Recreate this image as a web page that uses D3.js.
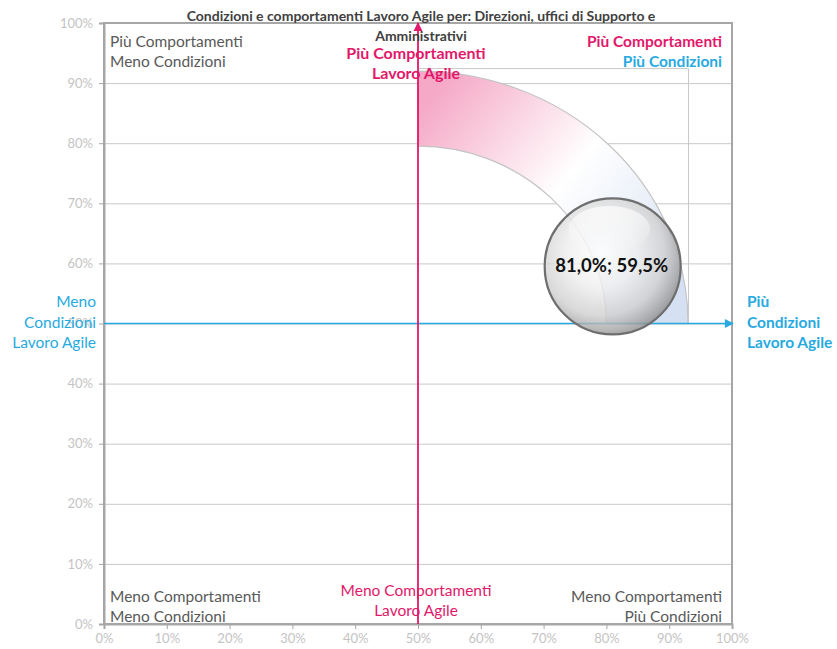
<!DOCTYPE html>
<html>
<head>
<meta charset="utf-8">
<script src="https://cdn.jsdelivr.net/npm/d3@7/dist/d3.min.js"></script>
<style>
  html, body { margin: 0; padding: 0; background: #ffffff; }
  svg { display: block; font-family: Lato, "Open Sans", "Noto Sans", sans-serif; }
</style>
</head>
<body>
<svg id="chart" width="837" height="649"></svg>
<script>
// Condizioni (x) vs Comportamenti (y), in percent
const groupNames = ["Direzioni, uffici di Supporto e Amministrativi"];
const condizioni = [81.0];
const comportamenti = [59.5];
const bubbleSizes = [1];

const xTicks = [0, 10, 20, 30, 40, 50, 60, 70, 80, 90, 100];
const yTicks = [0, 10, 20, 30, 40, 50, 60, 70, 80, 90, 100];

const titleLines = [
  "Condizioni e comportamenti Lavoro Agile per: Direzioni, uffici di Supporto e",
  "Amministrativi"
];

// Decorative quarter ring around the crossing point (percent units)
const ringCentre = [50, 50];
const ringOuter = [93, 92];
const ringInner = [80, 79.5];

const svg = d3.select("#chart");
const plot = { left: 104, right: 732, top: 23, bottom: 624 };

const x = d3.scaleLinear().domain([0, 100]).range([plot.left, plot.right]);
const y = d3.scaleLinear().domain([0, 100]).range([plot.bottom, plot.top]);
const r = d3.scaleSqrt().domain([0, 1]).range([0, 68]);

const pink = "#e2186a";
const blue = "#27aae1";
const grey = "#595959";
const pct = v => v + "%";
const itFmt = d3.formatLocale({ decimal: ",", thousands: ".", grouping: [3], currency: ["€", ""] }).format(".1f");

const defs = svg.append("defs");

// Ring fill: pink fading to white, then pale blue
const ringGrad = defs.append("linearGradient")
  .attr("id", "ringGrad").attr("gradientUnits", "userSpaceOnUse")
  .attr("x1", x(50)).attr("y1", y(85)).attr("x2", x(88)).attr("y2", y(52));
ringGrad.append("stop").attr("offset", "0%").attr("stop-color", "#f5a9c6");
ringGrad.append("stop").attr("offset", "50%").attr("stop-color", "#ffffff");
ringGrad.append("stop").attr("offset", "100%").attr("stop-color", "#d5e0f2");

// Glass-like bubble
const bubbleGrad = defs.append("radialGradient")
  .attr("id", "bubbleGrad").attr("cx", "42%").attr("cy", "40%").attr("r", "64%");
bubbleGrad.append("stop").attr("offset", "0%").attr("stop-color", "#ffffff");
bubbleGrad.append("stop").attr("offset", "40%").attr("stop-color", "#eeeeee");
bubbleGrad.append("stop").attr("offset", "72%").attr("stop-color", "#cfcfcf");
bubbleGrad.append("stop").attr("offset", "90%").attr("stop-color", "#a2a2a2");
bubbleGrad.append("stop").attr("offset", "100%").attr("stop-color", "#858585");

const shineGrad = defs.append("linearGradient")
  .attr("id", "shineGrad").attr("x1", "0").attr("y1", "0").attr("x2", "0").attr("y2", "1");
shineGrad.append("stop").attr("offset", "0%").attr("stop-color", "#ffffff").attr("stop-opacity", 0.7);
shineGrad.append("stop").attr("offset", "100%").attr("stop-color", "#ffffff").attr("stop-opacity", 0);

defs.append("marker").attr("id", "arrowPink")
  .attr("viewBox", "0 0 10 10").attr("refX", 9).attr("refY", 5)
  .attr("markerWidth", 9).attr("markerHeight", 11).attr("markerUnits", "userSpaceOnUse")
  .attr("orient", "auto")
  .append("path").attr("d", "M0,0 L10,5 L0,10 Z").attr("fill", pink);
defs.append("marker").attr("id", "arrowBlue")
  .attr("viewBox", "0 0 10 10").attr("refX", 9).attr("refY", 5)
  .attr("markerWidth", 11).attr("markerHeight", 9).attr("markerUnits", "userSpaceOnUse")
  .attr("orient", "auto")
  .append("path").attr("d", "M0,0 L10,5 L0,10 Z").attr("fill", blue);

// Horizontal gridlines
svg.append("g").selectAll("line").data(yTicks.filter(d => d > 0 && d < 100)).join("line")
  .attr("x1", plot.left).attr("x2", plot.right)
  .attr("y1", d => y(d) + 0.5).attr("y2", d => y(d) + 0.5)
  .attr("stroke", "#c8c8c8").attr("stroke-width", 1);

// Quarter ring between two elliptical arcs
const cx0 = x(ringCentre[0]), cy0 = y(ringCentre[1]);
const oRx = x(ringOuter[0]) - cx0, oRy = cy0 - y(ringOuter[1]);
const iRx = x(ringInner[0]) - cx0, iRy = cy0 - y(ringInner[1]);
const ringPath = `M${cx0},${cy0 - oRy} A${oRx},${oRy} 0 0 1 ${cx0 + oRx},${cy0}
  L${cx0 + iRx},${cy0} A${iRx},${iRy} 0 0 0 ${cx0},${cy0 - iRy} Z`;
svg.append("path").attr("d", ringPath)
  .attr("fill", "url(#ringGrad)").attr("stroke", "#c4c4c4").attr("stroke-width", 1.2);

// Frame of the ring picture
svg.append("path")
  .attr("d", `M${cx0},${cy0 - oRy - 2.5} H${cx0 + oRx + 0.5} V${cy0}`)
  .attr("fill", "none").attr("stroke", "#c8c8c8").attr("stroke-width", 1);

// Plot border
svg.append("rect")
  .attr("x", plot.left).attr("y", plot.top)
  .attr("width", plot.right - plot.left).attr("height", plot.bottom - plot.top)
  .attr("fill", "none").attr("stroke", "#a6a6a6").attr("stroke-width", 2);

// Axes (ticks only, labels light grey)
const yAxis = d3.axisLeft(y).tickValues(yTicks).tickFormat(pct).tickSize(5).tickPadding(6);
const gy = svg.append("g").attr("transform", `translate(${plot.left},0)`).call(yAxis);
const xAxis = d3.axisBottom(x).tickValues(xTicks).tickFormat(pct).tickSize(5).tickPadding(5);
const gx = svg.append("g").attr("transform", `translate(0,${plot.bottom})`).call(xAxis);
[gx, gy].forEach(g => {
  g.select(".domain").attr("stroke", "#a6a6a6").attr("stroke-width", 2);
  g.selectAll(".tick line").attr("stroke", "#a6a6a6");
  g.selectAll(".tick text").attr("fill", "#c4c4c4")
    .style("font-size", "13px").style("font-family", "Lato, sans-serif");
});

// Crossing axes with arrows
svg.append("line")
  .attr("x1", plot.left).attr("x2", plot.right + 1)
  .attr("y1", y(50)).attr("y2", y(50))
  .attr("stroke", blue).attr("stroke-width", 1.5).attr("marker-end", "url(#arrowBlue)");
svg.append("line")
  .attr("x1", x(50)).attr("x2", x(50))
  .attr("y1", plot.bottom).attr("y2", plot.top)
  .attr("stroke", pink).attr("stroke-width", 1.8).attr("marker-end", "url(#arrowPink)");

// Bubble(s)
const bubbles = svg.append("g").selectAll("g").data(condizioni.map((c, i) => ({
  name: groupNames[i], cx: c, cy: comportamenti[i], size: bubbleSizes[i]
}))).join("g");
bubbles.append("circle")
  .attr("cx", d => x(d.cx)).attr("cy", d => y(d.cy)).attr("r", d => r(d.size))
  .attr("fill", "url(#bubbleGrad)").attr("fill-opacity", 0.8)
  .attr("stroke", "#6e6e6e").attr("stroke-width", 2.2);
bubbles.append("ellipse")
  .attr("cx", d => x(d.cx) - r(d.size) * 0.05).attr("cy", d => y(d.cy) - r(d.size) * 0.55)
  .attr("rx", d => r(d.size) * 0.6).attr("ry", d => r(d.size) * 0.34)
  .attr("fill", "url(#shineGrad)");
bubbles.append("text")
  .attr("x", d => x(d.cx) - 1).attr("y", d => y(d.cy) + 1)
  .attr("text-anchor", "middle").attr("dominant-baseline", "middle")
  .style("font-size", "18.5px").style("font-weight", "bold").attr("fill", "#111111")
  .text(d => `${itFmt(d.cx)}%; ${itFmt(d.cy)}%`);

// Title
svg.append("text")
  .attr("text-anchor", "middle").style("font-size", "14px").style("font-weight", "bold")
  .attr("fill", "#404040")
  .selectAll("tspan").data(titleLines).join("tspan")
  .attr("x", 421).attr("y", (d, i) => 21 + i * 20)
  .text(d => d);

// Multi-line text helper
function label(lines, px, py, anchor, color, weight, size, lh) {
  const t = svg.append("text").attr("text-anchor", anchor).attr("fill", color)
    .style("font-size", size + "px").style("font-weight", weight);
  t.selectAll("tspan").data(lines).join("tspan")
    .attr("x", px).attr("y", (d, i) => py + i * lh)
    .attr("fill", d => d.color || color)
    .text(d => d.text || d);
  return t;
}

const fs = 15.5;
// Quadrant corners
label(["Più Comportamenti", "Meno Condizioni"], 110, 47, "start", grey, "normal", fs, 20);
label(["Meno Comportamenti", "Meno Condizioni"], 110, 602, "start", grey, "normal", fs, 20);
label(["Meno Comportamenti", "Più Condizioni"], 722, 602, "end", grey, "normal", fs, 20);
label([{ text: "Più Comportamenti", color: pink }, { text: "Più Condizioni", color: blue }],
  722, 47, "end", pink, "bold", fs, 20);

// Axis direction labels
label(["Più Comportamenti", "Lavoro Agile"], 416, 59, "middle", pink, "bold", 16, 20);
label(["Meno Comportamenti", "Lavoro Agile"], 416, 596, "middle", pink, "normal", fs, 20);
label(["Meno", "Condizioni", "Lavoro Agile"], 96, 307, "end", blue, "normal", fs, 20.5);
label(["Più", "Condizioni", "Lavoro Agile"], 747, 307, "start", blue, "bold", fs, 20.5);
</script>
</body>
</html>
